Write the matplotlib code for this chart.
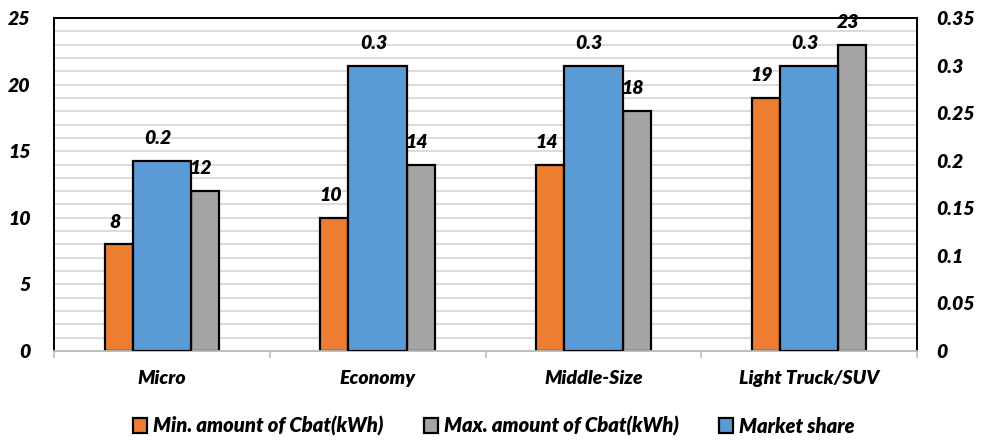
import matplotlib
matplotlib.use("Agg")
import matplotlib.pyplot as plt
from matplotlib.patches import Patch
import numpy as np

# Battery capacity ranges and market share by vehicle class
categories = ["Micro", "Economy", "Middle-Size", "Light Truck/SUV"]
min_cbat = [8, 10, 14, 19]
max_cbat = [12, 14, 18, 23]
market_share = [0.2, 0.3, 0.3, 0.3]

left_ticks = [0, 5, 10, 15, 20, 25]
right_ticks = [0, 0.05, 0.1, 0.15, 0.2, 0.25, 0.3, 0.35]
right_tick_labels = ["0", "0.05", "0.1", "0.15", "0.2", "0.25", "0.3", "0.35"]

ORANGE = "#ed7d31"
GREY = "#a5a5a5"
BLUE = "#5b9bd5"

plt.rcParams["font.family"] = ["Lato", "DejaVu Sans"]
FONT = dict(fontweight="heavy", fontstyle="italic")
FS = 14

fig = plt.figure(figsize=(9.88, 4.40), dpi=100)
ax = fig.add_axes([54 / 988, 89 / 440, 863 / 988, 333 / 440])
ax2 = ax.twinx()

x = np.arange(len(categories))
side_w = 0.13
mid_w = 0.27
offset = 0.2

bars_min = ax.bar(x - offset, min_cbat, width=side_w, color=ORANGE,
                  edgecolor="black", linewidth=1.6, zorder=3)
bars_max = ax.bar(x + offset, max_cbat, width=side_w, color=GREY,
                  edgecolor="black", linewidth=1.6, zorder=3)
bars_share = ax2.bar(x, market_share, width=mid_w, color=BLUE,
                     edgecolor="black", linewidth=1.6, zorder=3)

ax.set_xlim(-0.5, len(categories) - 0.5)
ax.set_ylim(0, 25)
ax2.set_ylim(0, 0.35)

# horizontal gridlines at every unit of the left axis
for v in range(1, 25):
    ax.axhline(v, color="#d9d9d9", linewidth=1.3, zorder=0)

ax.set_yticks(left_ticks)
ax.set_yticklabels([str(t) for t in left_ticks], fontsize=FS, **FONT)
ax2.set_yticks(right_ticks)
ax2.set_yticklabels(right_tick_labels, fontsize=FS, **FONT)
ax.tick_params(axis="y", length=0, pad=17)
ax2.tick_params(axis="y", length=0, pad=14)

ax.set_xticks(x)
ax.set_xticklabels(categories, fontsize=FS, **FONT)
ax.set_xticks(np.arange(-0.5, len(categories)), minor=True)
ax.tick_params(axis="x", which="major", length=0, pad=14)
ax.tick_params(axis="x", which="minor", length=5, color="#bfbfbf", width=1.2)
ax2.tick_params(axis="x", length=0)

for a in (ax, ax2):
    for s in ("top", "left", "right"):
        a.spines[s].set_color("black")
        a.spines[s].set_linewidth(1.3)
    a.spines["bottom"].set_color("#bfbfbf")
    a.spines["bottom"].set_linewidth(1.3)

ax2.set_zorder(ax.get_zorder() + 1)
ax2.patch.set_visible(False)

def label_bars(axis, bars, values, fmt):
    for b, v in zip(bars, values):
        axis.annotate(fmt(v), (b.get_x() + b.get_width() / 2, v),
                      xytext=(-3, 10), textcoords="offset points",
                      ha="center", va="bottom", fontsize=FS, zorder=5, **FONT)

label_bars(ax, bars_min, min_cbat, lambda v: f"{v:g}")
label_bars(ax, bars_max, max_cbat, lambda v: f"{v:g}")
label_bars(ax2, bars_share, market_share, lambda v: f"{v:g}")

handles = [
    Patch(facecolor=ORANGE, edgecolor="black", linewidth=1.6),
    Patch(facecolor=GREY, edgecolor="black", linewidth=1.6),
    Patch(facecolor=BLUE, edgecolor="black", linewidth=1.6),
]
labels = ["Min. amount of Cbat(kWh)", "Max. amount of Cbat(kWh)", "Market share"]
fig.legend(handles, labels, loc="center", bbox_to_anchor=(0.5, 14 / 440),
           ncol=3, frameon=False, handlelength=0.7, handleheight=0.7,
           handletextpad=0.3, columnspacing=2.0,
           prop=dict(family=["Lato", "DejaVu Sans"], weight="heavy",
                     style="italic", size=14.5))

fig.savefig("out.png", dpi=100)
